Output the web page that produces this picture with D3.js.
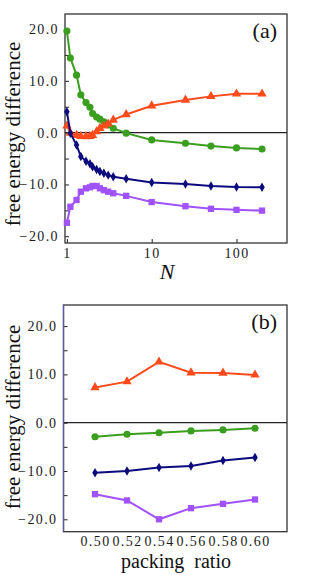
<!DOCTYPE html>
<html>
<head>
<meta charset="utf-8">
<script src="https://cdn.jsdelivr.net/npm/d3@7"></script>
<style>
  body { margin: 0; background: #fff; }
  text { font-family: "Liberation Serif", "DejaVu Serif", serif; }
</style>
</head>
<body>
<script>
// panel (a): free energy difference vs N
var nValues = [1, 1.1, 1.3, 1.46, 1.68, 1.87, 2.01, 2.24, 2.45, 2.73, 3.07, 3.52, 5, 10, 25, 50, 100, 200]
var aGreen  = [19.6, 14.4, 11.1, 7.3, 5.8, 4.9, 3.7, 3.0, 2.6, 2.1, 1.5, 0.85, -0.1, -1.4, -2.05, -2.6, -2.95, -3.15]
var aOrange = [1.3, -0.1, -0.5, -0.7, -0.75, -0.7, -0.5, 0.2, 0.85, 1.3, 1.7, 2.45, 3.5, 5.2, 6.3, 7.0, 7.5, 7.5]
var aNavy   = [4.05, -0.1, -2.4, -4.6, -5.5, -6.0, -6.6, -7.1, -7.5, -7.85, -8.2, -8.5, -8.9, -9.6, -9.9, -10.3, -10.5, -10.55]
var aPurple = [-17.4, -14.3, -13.0, -11.4, -10.75, -10.55, -10.3, -10.3, -10.75, -11.1, -11.4, -11.7, -12.2, -13.4, -14.2, -14.7, -14.9, -15.05]

// panel (b): free energy difference vs packing ratio
var packing = [0.50, 0.52, 0.54, 0.56, 0.58, 0.60]
var bOrange = [7.3, 8.5, 12.6, 10.35, 10.3, 9.9]
var bGreen  = [-2.9, -2.4, -2.07, -1.7, -1.5, -1.16]
var bNavy   = [-10.35, -10.0, -9.3, -8.95, -7.85, -7.2]
var bPurple = [-14.8, -16.1, -20.0, -17.7, -16.8, -15.9]

var yMajor = [-20, -10, 0, 10, 20]
var yMinor = [-15, -5, 5, 15]
var nTicks = [1, 10, 100]

var colors = { green: '#3a9e1e', orange: '#ff4b1c', navy: '#0b0b7d', purple: '#a152ff' }
var symbols = {
    green: d3.symbol().type(d3.symbolCircle).size(40),
    orange: d3.symbol().type(d3.symbolTriangle).size(38),
    navy: d3.symbol().type(d3.symbolDiamond).size(26),
    purple: d3.symbol().type(d3.symbolSquare).size(40)
}

var width = 327, height = 575
var svg = d3.select('body').append('svg')
    .attr('width', width)
    .attr('height', height)

function styleTicks(sel) {
    sel.selectAll('text')
        .attr('font-size', 14)
        .attr('fill', '#1a1a1a')
        .style('font-family', '"Liberation Serif", serif')
        .style('letter-spacing', '1.4px')
}

function panel(opt) {
    var g = svg.append('g')
    var x = opt.x, y = opt.y
    var x0 = x.range()[0], x1 = x.range()[1]
    var y0 = y.range()[1], y1 = y.range()[0]

    // zero line
    g.append('line')
        .attr('x1', x0).attr('x2', x1)
        .attr('y1', y(0)).attr('y2', y(0))
        .attr('stroke', '#222').attr('stroke-width', 1.2)

    // y axis, labelled and minor ticks
    var ya = g.append('g').attr('transform', 'translate(' + x0 + ',0)')
        .call(d3.axisLeft(y).tickValues(yMajor).tickFormat(d3.format('.1f'))
            .tickSizeInner(-4).tickSizeOuter(0).tickPadding(6))
    ya.append('g')
        .call(d3.axisLeft(y).tickValues(yMinor).tickFormat('')
            .tickSizeInner(-4).tickSizeOuter(0))
    ya.selectAll('.domain').remove()
    ya.selectAll('line').attr('stroke', '#222')
    styleTicks(ya)

    // x axis
    var xa = g.append('g').attr('transform', 'translate(0,' + y1 + ')')
        .call(opt.xAxis)
    xa.selectAll('.domain').remove()
    xa.selectAll('line').attr('stroke', '#222')
    styleTicks(xa)

    // frame
    g.append('rect')
        .attr('x', x0).attr('y', y0)
        .attr('width', x1 - x0).attr('height', y1 - y0)
        .attr('fill', 'none').attr('stroke', '#333').attr('stroke-width', 1.3)
    if (opt.leftColor) {
        g.append('line')
            .attr('x1', x0).attr('x2', x0).attr('y1', y0).attr('y2', y1)
            .attr('stroke', opt.leftColor).attr('stroke-width', 1.3)
    }

    var line = d3.line().x(d => x(d[0])).y(d => y(d[1]))
    opt.series.forEach(s => {
        var pts = opt.xs.map((v, i) => [v, s.values[i]])
        g.append('path')
            .datum(pts)
            .attr('d', line)
            .attr('fill', 'none')
            .attr('stroke', colors[s.key])
            .attr('stroke-width', 2)
        g.selectAll(null)
            .data(pts).enter()
            .append('path')
            .attr('d', symbols[s.key])
            .attr('transform', d => 'translate(' + x(d[0]) + ',' + y(d[1]) + ')')
            .attr('fill', colors[s.key])
    })

    // labels
    g.append('text')
        .attr('transform', 'translate(' + opt.titleX + ',' + opt.titleY + ') rotate(-90)')
        .attr('text-anchor', 'middle')
        .attr('font-size', 21)
        .attr('fill', '#111')
        .text('free energy difference')
    g.append('text')
        .attr('x', 277).attr('y', opt.tagY)
        .attr('text-anchor', 'end')
        .attr('font-size', 22)
        .attr('fill', '#111')
        .text(opt.tag)
    return g
}

// (a)
var xa = d3.scaleLog().domain([0.95, 394]).range([65, 287])
var ya = d3.scaleLinear().domain([-21.3, 22.9]).range([243, 14])
var pa = panel({
    x: xa, y: ya, xs: nValues,
    xAxis: d3.axisBottom(xa).tickValues(nTicks).tickFormat(d3.format('d'))
        .tickSizeInner(-4).tickSizeOuter(0).tickPadding(5),
    series: [
        { key: 'green', values: aGreen },
        { key: 'orange', values: aOrange },
        { key: 'navy', values: aNavy },
        { key: 'purple', values: aPurple }
    ],
    titleX: 20, titleY: 134, tag: '(a)', tagY: 38
})
pa.append('text')
    .attr('x', 167).attr('y', 279)
    .attr('text-anchor', 'middle')
    .attr('font-size', 22)
    .attr('font-style', 'italic')
    .attr('fill', '#111')
    .text('N')

// (b)
var xb = d3.scaleLinear().domain([0.4803, 0.62]).range([63.5, 287])
var yb = d3.scaleLinear().domain([-22.57, 24.37]).range([531.7, 305])
var pb = panel({
    x: xb, y: yb, xs: packing,
    xAxis: d3.axisBottom(xb).tickValues(packing).tickFormat(d3.format('.2f'))
        .tickSizeInner(0).tickSizeOuter(0).tickPadding(4),
    series: [
        { key: 'orange', values: bOrange },
        { key: 'green', values: bGreen },
        { key: 'navy', values: bNavy },
        { key: 'purple', values: bPurple }
    ],
    titleX: 20, titleY: 417, tag: '(b)', tagY: 329, leftColor: '#5a5aa8'
})
pb.append('text')
    .attr('x', 176).attr('y', 568)
    .attr('text-anchor', 'middle')
    .attr('font-size', 20)
    .attr('fill', '#111')
    .style('white-space', 'pre')
    .text('packing  ratio')
</script>
</body>
</html>
